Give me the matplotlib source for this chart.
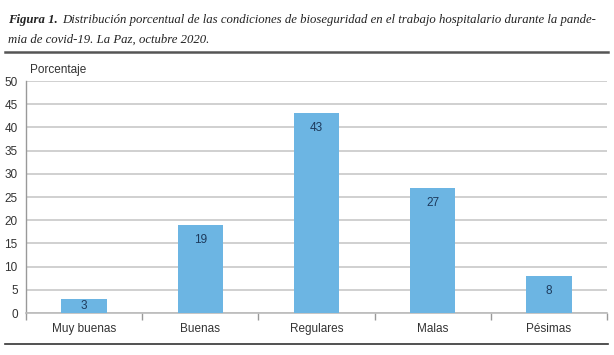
import matplotlib
matplotlib.use("Agg")
import matplotlib.pyplot as plt
from matplotlib.lines import Line2D

#   Datos
categorias = ["Muy buenas", "Buenas", "Regulares", "Malas", "Pésimas"]
porcentajes = [3, 19, 43, 27, 8]
yticks = [0, 5, 10, 15, 20, 25, 30, 35, 40, 45, 50]

plt.rcParams['font.family'] = ['Liberation Sans Narrow', 'Liberation Sans', 'DejaVu Sans']

W, H = 614, 355
fig = plt.figure(figsize=(W / 100, H / 100), dpi=100)
ax = fig.add_axes([26 / W, 1 - 313 / H, (607 - 26) / W, (313 - 81) / H])

x = list(range(len(categorias)))
ax.bar(x, porcentajes, width=0.39, color="#6cb5e3", zorder=3)
for xi, v in zip(x, porcentajes):
    ax.text(xi, max(v - 3.2, v / 2), str(v), ha="center", va="center",
            fontsize=8.5, color="#1d3a5c", zorder=4)

ax.set_xlim(-0.5, 4.5)
ax.set_ylim(0, 50)
ax.set_yticks(yticks)
ax.set_yticklabels([str(t) for t in yticks], fontsize=8.5, color="#333333")
ax.tick_params(axis="y", length=0, pad=6)
ax.yaxis.grid(True, color="#c8c8c8", linewidth=1.2, zorder=0)

ax.set_xticks([i - 0.5 for i in range(len(categorias) + 1)])
ax.set_xticklabels([])
ax.tick_params(axis="x", which="major", length=5, color="#999999", width=1)
ax.set_xticks(x, minor=True)
ax.set_xticklabels(categorias, minor=True, fontsize=8.5, color="#333333")
ax.tick_params(axis="x", which="minor", length=0, pad=7)

for s in ["top", "right"]:
    ax.spines[s].set_visible(False)
ax.spines["left"].set_color("#999999")
ax.spines["bottom"].set_color("#bbbbbb")
ax.spines["left"].set_linewidth(1)
ax.spines["bottom"].set_linewidth(1.2)

fig.text(30 / W, 1 - 70 / H, "Porcentaje", fontsize=8.5, color="#333333",
         ha="left", va="center")

#   Título (se ajusta el tamaño para que la primera línea quepa en el ancho)
serif = ['Liberation Serif', 'DejaVu Serif']
titulo_a = "Figura 1."
titulo_b = "Distribución porcentual de las condiciones de bioseguridad en el trabajo hospitalario durante la pande-"
titulo_c = "mia de covid-19. La Paz, octubre 2020."
fs = 10.5
renderer = fig.canvas.get_renderer()
t1 = fig.text(8 / W, 1 - 23 / H, titulo_a, fontsize=fs, style="italic",
              weight="bold", family=serif, color="#222222")
t2 = fig.text(0, 1 - 23 / H, titulo_b, fontsize=fs, style="italic",
              family=serif, color="#222222")
w1 = t1.get_window_extent(renderer).width
w2 = t2.get_window_extent(renderer).width
fs = fs * (604 - 8 - 4) / (w1 + w2)
t1.set_fontsize(fs)
t2.set_fontsize(fs)
bb = t1.get_window_extent(renderer)
t2.set_x((bb.x1 + 4) / W)
fig.text(8 / W, 1 - 43 / H, titulo_c, fontsize=fs, style="italic",
         family=serif, color="#222222")

fig.add_artist(Line2D([5 / W, 608 / W], [1 - 52 / H, 1 - 52 / H], color="#555555", linewidth=1.8))
fig.add_artist(Line2D([5 / W, 608 / W], [1 - 344 / H, 1 - 344 / H], color="#333333", linewidth=1.2))

fig.savefig("out.png", dpi=100)
